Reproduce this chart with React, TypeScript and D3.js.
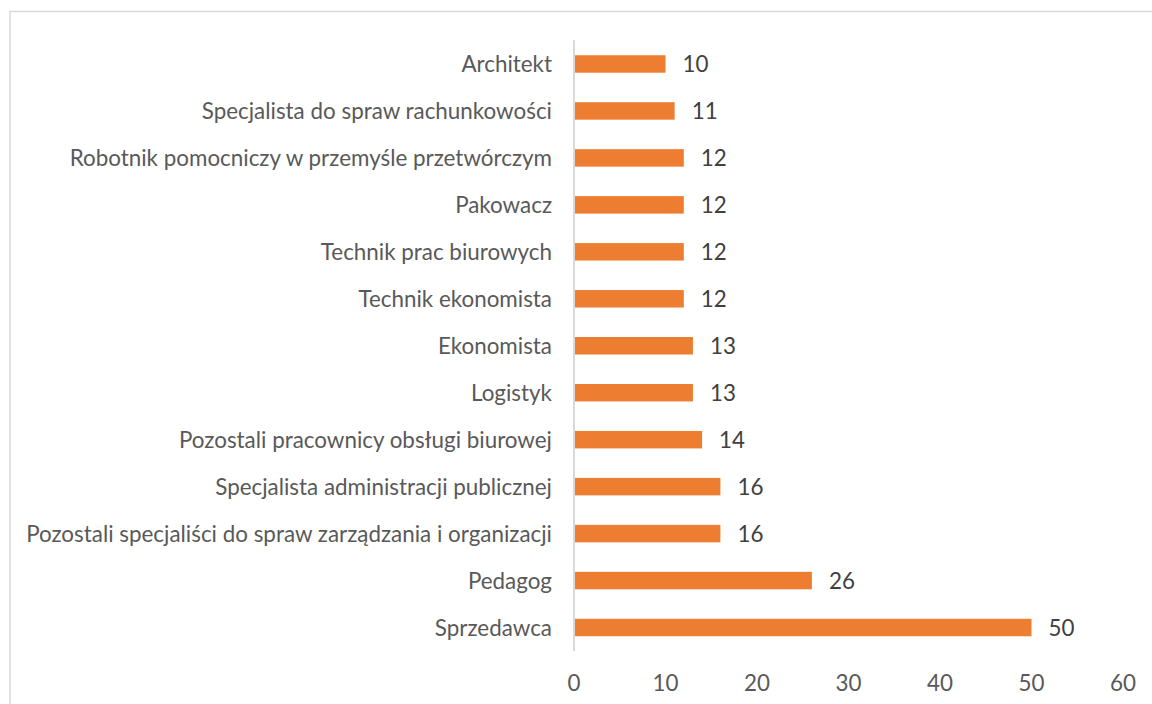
import React from "react";
import * as d3 from "d3";

const categories = [
  "Architekt",
  "Specjalista do spraw rachunkowości",
  "Robotnik pomocniczy w przemyśle przetwórczym",
  "Pakowacz",
  "Technik prac biurowych",
  "Technik ekonomista",
  "Ekonomista",
  "Logistyk",
  "Pozostali pracownicy obsługi biurowej",
  "Specjalista administracji publicznej",
  "Pozostali specjaliści do spraw zarządzania i organizacji",
  "Pedagog",
  "Sprzedawca",
];
const values = [10, 11, 12, 12, 12, 12, 13, 13, 14, 16, 16, 26, 50];
const xTicks = [0, 10, 20, 30, 40, 50, 60];

const W = 1152;
const H = 704;
const FONT = "Lato, 'Open Sans', sans-serif";
const FS = 22.4;

export default function App() {
  const x = d3.scaleLinear().domain([0, 60]).range([574, 1123]);
  const y = d3.scaleBand<string>().domain(categories).range([40.5, 651]).padding(0);
  const barH = y.step() * 0.372;

  return (
    <svg
      width={W}
      height={H}
      style={{ position: "absolute", left: 0, top: 0, background: "#fff" }}
    >
      <rect x={10} y={11.5} width={1300} height={900} fill="#fff" stroke="#D9D9D9" strokeWidth={1.5} />
      {categories.map((c, i) => {
        const cy = (y(c) as number) + y.bandwidth() / 2;
        return (
          <g key={c}>
            <rect
              x={x(0)}
              y={cy - barH / 2}
              width={x(values[i]) - x(0)}
              height={barH}
              fill="#ED7D31"
            />
            <text
              x={552}
              y={cy}
              textAnchor="end"
              dominantBaseline="central"
              fontFamily={FONT}
              fontSize={FS}
              fill="#595959"
            >
              {c}
            </text>
            <text
              x={x(values[i]) + 17}
              y={cy}
              dominantBaseline="central"
              fontFamily={FONT}
              fontSize={FS}
              fill="#404040"
            >
              {values[i]}
            </text>
          </g>
        );
      })}
      <line x1={x(0)} x2={x(0)} y1={40} y2={651} stroke="#D9D9D9" strokeWidth={2} />
      {xTicks.map((t) => (
        <text
          key={t}
          x={x(t)}
          y={682}
          textAnchor="middle"
          dominantBaseline="central"
          fontFamily={FONT}
          fontSize={FS}
          fill="#595959"
        >
          {t}
        </text>
      ))}
    </svg>
  );
}
